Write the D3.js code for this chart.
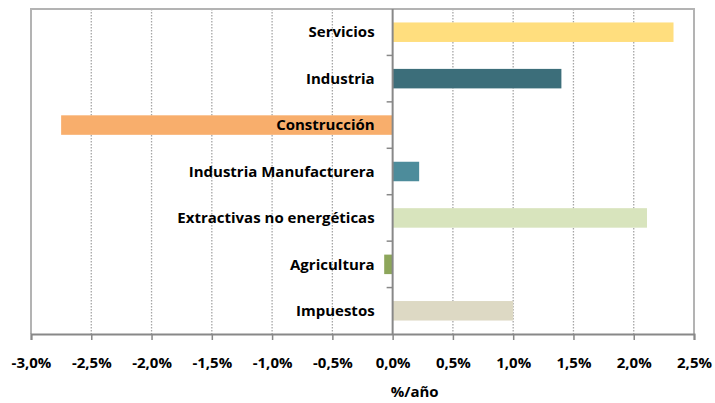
<!DOCTYPE html>
<html><head><meta charset="utf-8">
<script src="https://cdn.jsdelivr.net/npm/d3@7"></script>
<style>body{margin:0;background:#fff}svg{display:block}text{font-family:"Open Sans",sans-serif;font-weight:bold;fill:#000}</style>
</head><body><svg id="c" width="715" height="403"></svg>
<script>
const categories = ["Servicios","Industria","Construcción","Industria Manufacturera","Extractivas no energéticas","Agricultura","Impuestos"];
const values = [2.33, 1.40, -2.75, 0.22, 2.11, -0.07, 1.00];
const colors = ["#FFDE7E","#3C6E7A","#F8AE6C","#4D8C9B","#D8E4BD","#8DA65B","#DDD9C4"];
const tickValues = [-3,-2.5,-2,-1.5,-1,-0.5,0,0.5,1,1.5,2,2.5];
const xTitle = "%/año";

const svg = d3.select("#c");
const L = 31, R = 694, T = 9, B = 334;
const FS = "15px";
const x = d3.scaleLinear().domain([-3,2.5]).range([L,R]);
const y = d3.scaleBand().domain(categories).range([T,B]).paddingInner(0.58).paddingOuter(0.29);
const fmt = v => d3.format(".1f")(v).replace(".",",").replace("−","-") + "%";

// gridlines
svg.append("g").selectAll("line").data(tickValues.filter(v=>v!==0 && v!==-3 && v!==2.5)).join("line")
  .attr("x1",d=>x(d)).attr("x2",d=>x(d)).attr("y1",T).attr("y2",B)
  .attr("stroke","#a6a6a6").attr("stroke-width",1.3).attr("stroke-dasharray","1.5,1.5");

// plot border
svg.append("path").attr("d",`M${L},${B}V${T}H${R}V${B}`).attr("fill","none").attr("stroke","#b3b3b3").attr("stroke-width",2);

// bars
svg.append("g").selectAll("rect").data(categories).join("rect")
  .attr("x",(d,i)=>x(Math.min(0,values[i])))
  .attr("width",(d,i)=>Math.abs(x(values[i])-x(0)))
  .attr("y",d=>y(d)).attr("height",y.bandwidth())
  .attr("fill",(d,i)=>colors[i]);

// x axis
const xa = svg.append("g").attr("transform",`translate(0,${B})`)
  .call(d3.axisBottom(x).tickValues(tickValues).tickFormat(fmt).tickSize(6).tickPadding(17));
xa.select(".domain").attr("stroke","#888").attr("stroke-width",2);
xa.selectAll(".tick line").attr("stroke","#888").attr("stroke-width",1.5);
xa.selectAll(".tick text").attr("font-size",FS).attr("font-family","Open Sans").attr("font-weight","bold").attr("fill","#000");

// zero line with category ticks
const step = (B-T)/categories.length;
const ya = svg.append("g").attr("transform",`translate(${x(0)},0)`);
ya.append("line").attr("y1",T).attr("y2",B).attr("stroke","#888").attr("stroke-width",2);
ya.selectAll("line.t").data(d3.range(1,categories.length)).join("line").attr("class","t")
  .attr("x1",-6).attr("x2",0).attr("y1",d=>T+d*step).attr("y2",d=>T+d*step)
  .attr("stroke","#888").attr("stroke-width",1.5);

// category labels
svg.append("g").selectAll("text").data(categories).join("text")
  .attr("x",x(0)-18).attr("y",d=>y(d)+y.bandwidth()/2).attr("dy","0.35em")
  .attr("text-anchor","end").attr("font-size",FS).text(d=>d);

// axis title
svg.append("text").attr("x",x(0)+22).attr("y",397).attr("text-anchor","middle")
  .attr("font-size",FS).text(xTitle);
</script></body></html>
